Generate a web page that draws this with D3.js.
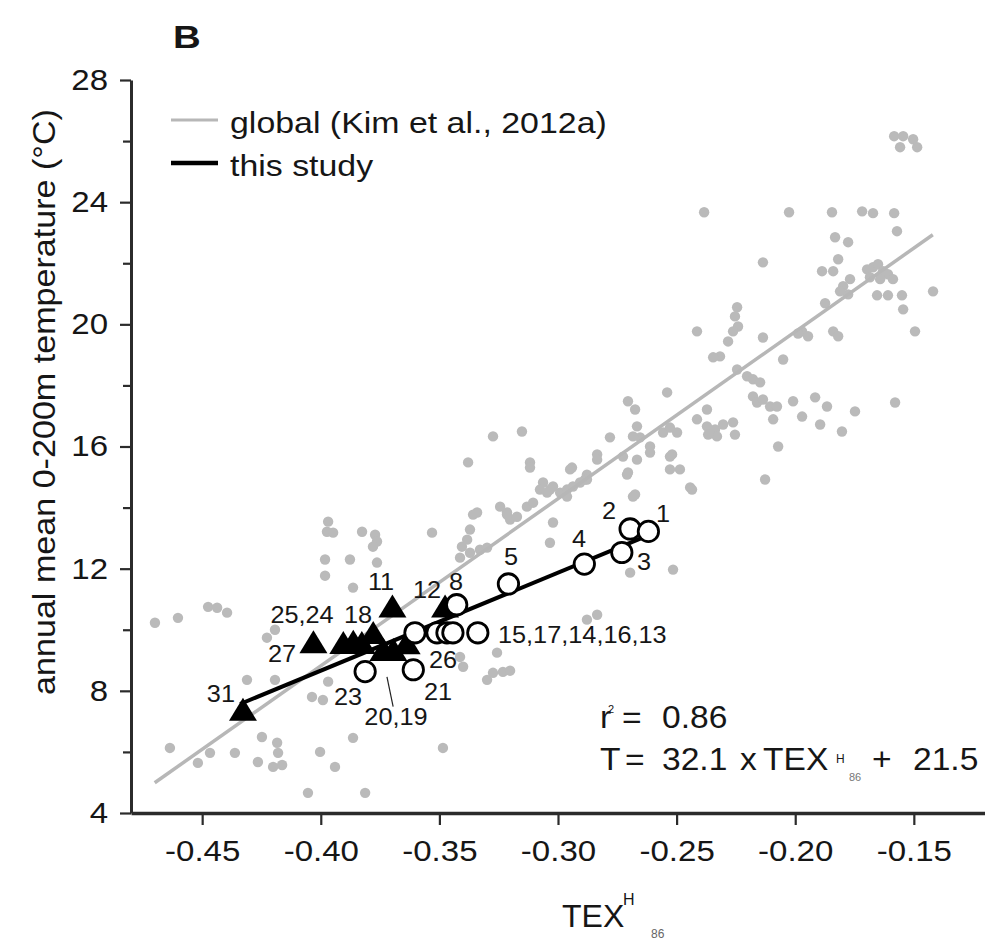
<!DOCTYPE html>
<html lang="en">
<head>
<meta charset="utf-8">
<script src="https://cdn.jsdelivr.net/npm/d3@7/dist/d3.min.js"></script>
<style>
    body { margin: 0; background: #fff; }
    svg text { font-family: "Liberation Sans", Arial, sans-serif; }
</style>
</head>
<body>
<div id="chart"></div>
<script>
    // global calibration points (TEX86H, T)
    const globalPoints = [
        [-0.2384,23.67],[-0.2026,23.67],[-0.1845,23.67],[-0.1718,23.70],[-0.1672,23.64],[-0.1583,23.64],[-0.1571,23.05],
        [-0.1832,22.85],[-0.1777,22.69],[-0.2136,22.03],[-0.1819,22.13],[-0.1887,21.74],[-0.1840,21.74],
        [-0.1697,21.80],[-0.1672,21.87],[-0.1651,21.97],[-0.1630,21.74],[-0.1609,21.64],[-0.1588,21.48],[-0.1685,21.54],[-0.1642,21.48],
        [-0.1769,21.48],[-0.1798,21.25],[-0.1777,20.98],[-0.1811,21.08],
        [-0.1655,20.95],[-0.1609,20.95],[-0.1550,20.95],[-0.1545,20.49],[-0.1419,21.08],[-0.1495,19.77],[-0.1874,20.69],
        [-0.1583,26.16],[-0.1545,26.16],[-0.1503,26.06],[-0.1558,25.80],[-0.1486,25.80],
        [-0.2245,20.56],[-0.2254,20.26],[-0.2241,19.93],[-0.2262,19.77],[-0.2283,19.44],[-0.2317,18.95],[-0.2346,18.92],
        [-0.2414,19.77],[-0.2136,19.57],[-0.1971,19.77],[-0.1946,19.61],[-0.1988,19.70],[-0.1840,19.77],[-0.1819,19.61],
        [-0.2051,18.85],[-0.2245,18.52],[-0.2203,18.30],[-0.2178,18.20],[-0.2148,18.10],
        [-0.2178,17.64],[-0.2161,17.44],[-0.2136,17.54],[-0.2106,17.31],[-0.2077,17.31],[-0.2093,16.89],
        [-0.2009,17.48],[-0.1971,16.98],[-0.1916,17.61],[-0.1866,17.31],[-0.1895,16.72],[-0.1803,16.49],[-0.1748,17.15],[-0.1579,17.44],
        [-0.2072,16.00],[-0.2127,14.92],[-0.2372,17.21],
        [-0.2414,16.89],[-0.2372,16.66],[-0.2338,16.56],[-0.2304,16.72],[-0.2262,16.79],[-0.2254,16.39],[-0.2330,16.33],[-0.2367,16.39],
        [-0.2540,17.77],[-0.2705,17.48],[-0.2675,17.21],[-0.2667,16.66],[-0.2654,16.30],[-0.2684,16.33],[-0.2612,16.00],[-0.2557,16.46],[-0.2528,16.62],[-0.2498,16.46],
        [-0.2781,16.30],[-0.2835,15.74],[-0.2941,15.31],[-0.2886,14.92],[-0.2709,15.08],[-0.2519,15.74],[-0.2443,14.66],[-0.2675,14.43],
        [-0.3152,16.49],[-0.3118,15.48],
        [-0.3063,14.82],[-0.3034,14.59],[-0.2991,14.49],[-0.2962,14.59],[-0.2937,14.69],
        [-0.3379,15.48],[-0.3118,15.31],[-0.2949,15.25],[-0.2878,15.08],[-0.2835,15.57],[-0.2726,15.67],[-0.2667,15.57],[-0.2612,15.80],
        [-0.2528,15.67],[-0.2528,15.25],[-0.2486,15.25],[-0.2435,14.59],[-0.2684,14.36],[-0.2705,15.15],
        [-0.3244,14.03],[-0.3215,13.84],[-0.3202,13.61],[-0.3173,13.70],[-0.3131,14.03],[-0.3105,14.16],[-0.3076,14.59],[-0.3046,14.49],
        [-0.3021,14.69],[-0.2907,14.82],[-0.2878,14.92],[-0.2962,14.36],
        [-0.3341,13.84],[-0.3371,13.28],[-0.3383,12.95],[-0.3405,12.72],[-0.3021,13.51],[-0.3034,12.85],[-0.2696,11.87],[-0.2515,11.97],[-0.3531,13.18],
        [-0.3274,16.33],[-0.3358,13.77],[-0.3215,13.77],[-0.3413,12.36],[-0.3371,12.52],[-0.3329,12.62],[-0.3299,12.69],
        [-0.2878,10.33],[-0.2835,10.49],
        [-0.3969,13.54],[-0.3974,13.21],[-0.3948,13.18],[-0.3826,13.21],[-0.3771,13.11],[-0.3763,12.89],[-0.3780,12.72],
        [-0.3982,12.30],[-0.3877,12.30],[-0.3763,12.20],[-0.3982,11.77],[-0.3864,11.38],
        [-0.4475,10.75],[-0.4437,10.72],[-0.4395,10.56],[-0.4699,10.23],[-0.4602,10.39],
        [-0.4227,9.74],[-0.4193,10.00],[-0.4311,8.36],[-0.4193,8.36],[-0.4037,7.80],[-0.3969,8.30],[-0.3991,7.70],
        [-0.4636,6.13],[-0.4518,5.64],[-0.4467,5.97],[-0.4362,5.97],[-0.4265,5.67],[-0.4248,6.49],[-0.4184,6.30],[-0.4180,5.97],
        [-0.4201,5.51],[-0.4163,5.57],[-0.4003,6.00],[-0.3864,6.46],[-0.3940,5.51],[-0.4054,4.66],[-0.3813,4.66],[-0.3485,6.13],
        [-0.3257,9.25],[-0.3299,8.36],[-0.3274,8.59],[-0.3232,8.62],[-0.3202,8.66],[-0.3413,9.11],[-0.3400,8.79]
    ];

    // this study: open circles and filled triangles
    const circlePoints = [
        [-0.2696,13.30],[-0.2619,13.22],[-0.2731,12.53],[-0.2889,12.15],[-0.3209,11.50],[-0.3427,10.82],
        [-0.3603,9.90],[-0.3510,9.90],[-0.3468,9.90],[-0.3443,9.90],[-0.3338,9.90],
        [-0.3610,8.69],[-0.3813,8.63]
    ];
    const trianglePoints = [
        [-0.4328,7.38],[-0.4031,9.59],[-0.3905,9.57],[-0.3863,9.61],[-0.3827,9.57],[-0.3779,9.89],
        [-0.3698,10.76],[-0.3736,9.34],[-0.3694,9.34],[-0.3638,9.56],[-0.3476,10.76]
    ];

    // sample labels: text, TEX, T, anchor
    const pointLabels = [
        ['1', -0.2557, 13.54, 'middle'], ['2', -0.2785, 13.61, 'middle'], ['3', -0.2637, 11.97, 'middle'],
        ['4', -0.2911, 12.72, 'middle'], ['5', -0.3198, 12.13, 'middle'], ['8', -0.3430, 11.31, 'middle'],
        ['12', -0.3552, 11.05, 'middle'], ['15,17,14,16,13', -0.3253, 9.57, 'start'],
        ['11', -0.3746, 11.31, 'middle'], ['25,24', -0.4079, 10.23, 'middle'], ['18', -0.3843, 10.23, 'middle'],
        ['27', -0.4163, 8.95, 'middle'], ['26', -0.3485, 8.75, 'middle'], ['21', -0.3506, 7.70, 'middle'],
        ['23', -0.3885, 7.54, 'middle'], ['20,19', -0.3683, 6.89, 'middle'], ['31', -0.4421, 7.64, 'middle']
    ];
    const leaders = [[-0.3721, 8.46, -0.3695, 7.48]];

    // regressions: [slope, intercept, xmin, xmax]
    const globalFit = [54.7, 30.7, -0.47, -0.142];
    const studyFit = [32.1, 21.5, -0.434, -0.262];

    const xTicks = [-0.45, -0.40, -0.35, -0.30, -0.25, -0.20, -0.15];
    const yTicks = [4, 8, 12, 16, 20, 24, 28];
    const yMinorTicks = [6, 10, 14, 18, 22, 26];
    const legendItems = ['global (Kim et al., 2012a)', 'this study'];

    (() => {
        const width = 985, height = 941;
        const svg = d3.select('#chart').append('svg')
            .attr('width', width).attr('height', height);
        svg.append('rect').attr('width', width).attr('height', height).attr('fill', '#fff');

        const x = d3.scaleLinear().domain([-0.48, -0.12]).range([131, 985]);
        const y = d3.scaleLinear().domain([4, 28]).range([813, 80]);
        const axisColor = '#2b2b2b';
        const ink = '#161616';

        const txt = (g, px, py, s, size, o = {}) => g.append('text')
            .attr('transform', `translate(${px},${py}) rotate(${o.rot || 0}) scale(${o.sx || 1.1},1)`)
            .attr('text-anchor', o.anchor || 'start')
            .attr('font-size', size)
            .attr('font-weight', o.weight || 'normal')
            .attr('fill', o.fill || ink)
            .text(s);

        // global data
        svg.append('g').selectAll('circle')
            .data(globalPoints)
            .enter().append('circle')
            .attr('cx', d => x(d[0]))
            .attr('cy', d => y(d[1]))
            .attr('r', 5.2)
            .attr('fill', '#bababa');

        const fitLine = f => [[f[2], f[0] * f[2] + f[1]], [f[3], f[0] * f[3] + f[1]]];
        const line = d3.line().x(d => x(d[0])).y(d => y(d[1]));
        svg.append('path').attr('d', line(fitLine(globalFit)))
            .attr('stroke', '#b7b7b7').attr('stroke-width', 3.5).attr('fill', 'none');
        svg.append('path').attr('d', line(fitLine(studyFit)))
            .attr('stroke', '#000').attr('stroke-width', 4).attr('fill', 'none');

        // axes
        const xAxis = svg.append('g')
            .attr('transform', `translate(0,${y(4)})`)
            .call(d3.axisBottom(x).tickValues(xTicks).tickSize(12).tickSizeOuter(0)
                .tickPadding(15).tickFormat(d => d.toFixed(2)));
        xAxis.selectAll('text').attr('font-size', 29.5).attr('fill', ink)
            .attr('font-family', '"Liberation Sans", Arial, sans-serif')
            .attr('transform', 'scale(1.12,1)');

        const yAxis = svg.append('g')
            .attr('transform', `translate(${x(-0.48)},0)`)
            .call(d3.axisLeft(y).tickValues(yTicks).tickSize(11).tickSizeOuter(0).tickPadding(9.5));
        yAxis.selectAll('text').attr('font-size', 29.5).attr('fill', ink)
            .attr('font-family', '"Liberation Sans", Arial, sans-serif')
            .attr('transform', 'scale(1.12,1)');
        svg.append('g')
            .attr('transform', `translate(${x(-0.48)},0)`)
            .call(d3.axisLeft(y).tickValues(yMinorTicks).tickSize(8).tickFormat(''))
            .select('.domain').remove();

        svg.selectAll('.domain').attr('stroke', axisColor).attr('stroke-width', 3);
        xAxis.select('.domain').attr('stroke-width', 3.5);
        svg.selectAll('.tick line').attr('stroke', axisColor).attr('stroke-width', 2.2);

        // this study markers
        const tri = 'M0,-12 L14,11 L-14,11 Z';
        svg.append('g').selectAll('path')
            .data(trianglePoints)
            .enter().append('path')
            .attr('d', tri)
            .attr('transform', d => `translate(${x(d[0])},${y(d[1])})`)
            .attr('fill', '#000');
        svg.append('g').selectAll('circle')
            .data(circlePoints)
            .enter().append('circle')
            .attr('cx', d => x(d[0]))
            .attr('cy', d => y(d[1]))
            .attr('r', 10.2)
            .attr('fill', '#fff')
            .attr('stroke', '#000')
            .attr('stroke-width', 2.8);

        // labels
        const lab = svg.append('g');
        pointLabels.forEach(d => txt(lab, x(d[1]), y(d[2]), d[0], 23, {anchor: d[3], sx: 1.1}));
        svg.append('g').selectAll('line')
            .data(leaders)
            .enter().append('line')
            .attr('x1', d => x(d[0])).attr('y1', d => y(d[1]))
            .attr('x2', d => x(d[2])).attr('y2', d => y(d[3]))
            .attr('stroke', '#222').attr('stroke-width', 1.2);

        // panel letter
        txt(svg, 173, 48, 'B', 32, {weight: 'bold', sx: 1.2});

        // legend
        const leg = svg.append('g');
        const legColors = ['#b7b7b7', '#000'];
        const legWidths = [3, 4.5];
        legendItems.forEach((s, i) => {
            const ly = 120 + i * 43;
            leg.append('line').attr('x1', 171).attr('x2', 218).attr('y1', ly).attr('y2', ly)
                .attr('stroke', legColors[i]).attr('stroke-width', legWidths[i]);
            txt(leg, 230, ly + 13, s, 30, {sx: 1.13});
        });

        // regression annotation
        const ann = svg.append('g');
        txt(ann, 600, 728, 'r', 32, {sx: 1.05});
        txt(ann, 608, 713, '2', 11, {sx: 1});
        txt(ann, 622, 728, '=', 32, {sx: 1.05});
        txt(ann, 662, 728, '0.86', 32, {sx: 1.05});
        txt(ann, 600, 770, 'T', 32, {sx: 1.05});
        txt(ann, 625, 770, '=', 32, {sx: 1.05});
        txt(ann, 662, 770, '32.1', 32, {sx: 1.05});
        txt(ann, 740, 770, 'x', 32, {sx: 1.05});
        txt(ann, 763, 770, 'TEX', 32, {sx: 1.05});
        txt(ann, 836, 763, 'H', 12, {sx: 1});
        txt(ann, 849, 781, '86', 11, {sx: 1, fill: '#777'});
        txt(ann, 872, 770, '+', 32, {sx: 1.05});
        txt(ann, 913, 770, '21.5', 32, {sx: 1.05});

        // axis titles
        txt(svg, 562, 927, 'TEX', 32, {sx: 1.0});
        txt(svg, 623, 905, 'H', 16, {sx: 1.0});
        txt(svg, 651, 938, '86', 12, {sx: 1.0, fill: '#666'});
        txt(svg, 55, 402, 'annual mean 0-200m temperature (°C)', 31, {rot: -90, anchor: 'middle', sx: 1.1});
    })();
</script>
</body>
</html>
